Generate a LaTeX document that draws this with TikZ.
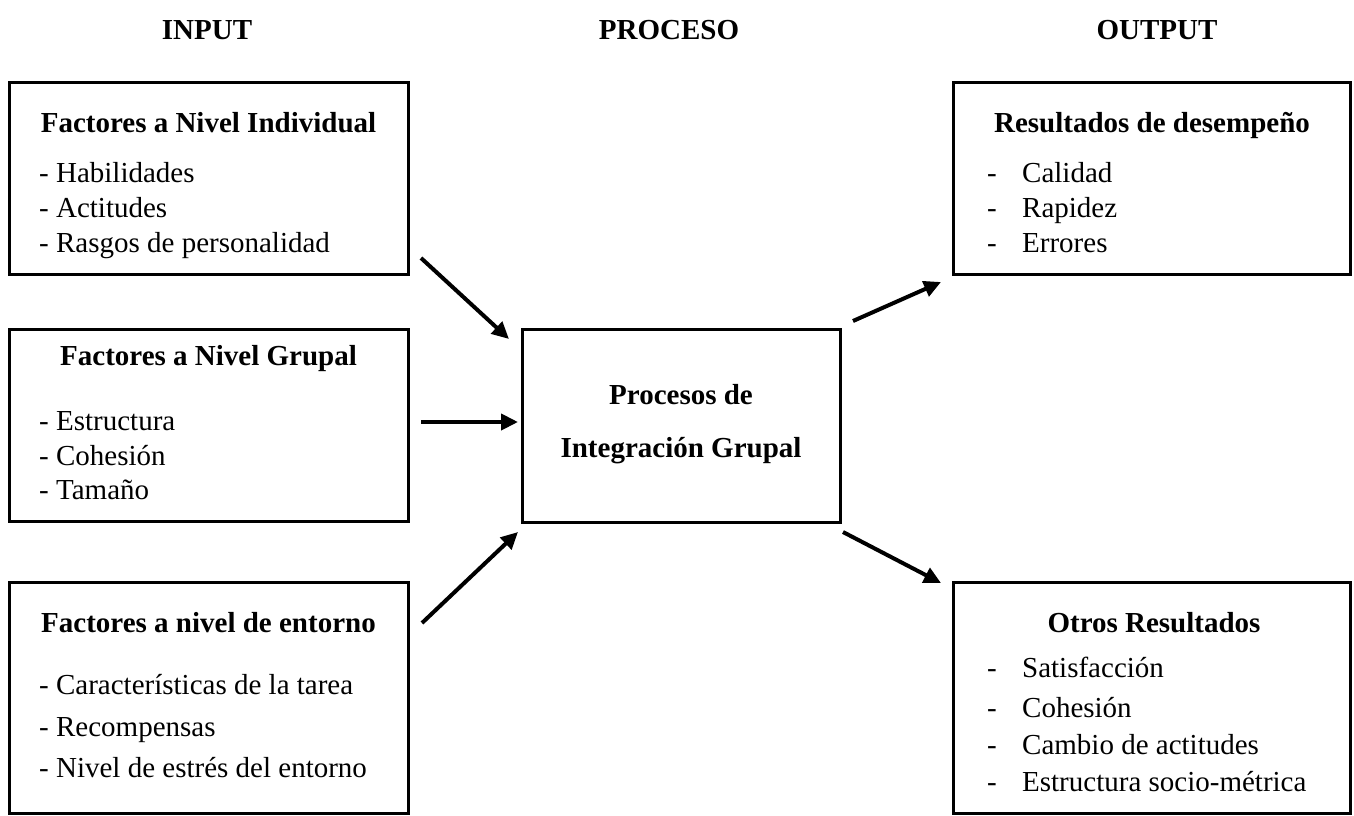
\documentclass[tikz,border=0pt]{standalone}
\usepackage{fontspec}
\setmainfont{Liberation Serif}
\usetikzlibrary{arrows.meta}
\begin{document}
\begin{tikzpicture}[
  x=1pt, y=-1pt,
  caja/.style={draw=black, line width=3pt, inner sep=0pt},
  encab/.style={font=\fontsize{29}{35}\selectfont\bfseries, inner sep=0pt, anchor=base},
  titulo/.style={font=\fontsize{29}{35}\selectfont\bfseries, inner sep=0pt, anchor=base},
  item/.style={font=\fontsize{29}{35}\selectfont, inner sep=0pt, anchor=base west},
  flecha/.style={line width=4pt, -{Triangle[length=17pt,width=16pt]}}
]
\useasboundingbox (0,0) rectangle (1354,816);

\node[encab] (hin) at (207,40) {INPUT};
\node[encab] (hpr) at (669,40) {PROCESO};
\node[encab] (hout) at (1157,40) {OUTPUT};

\node[caja, minimum width=399pt, minimum height=192pt] (indiv) at (208.5,178) {};
\node[caja, minimum width=399pt, minimum height=192pt] (grupal) at (208.5,425) {};
\node[caja, minimum width=399pt, minimum height=231pt] (entorno) at (208.5,697.5) {};
\node[caja, minimum width=318pt, minimum height=193pt] (proceso) at (681,425.5) {};
\node[caja, minimum width=397pt, minimum height=192pt] (desemp) at (1151.5,178) {};
\node[caja, minimum width=397pt, minimum height=231pt] (otros) at (1151.5,697.5) {};

\node[titulo] (tindiv) at (208.5,132) {Factores a Nivel Individual};
\node[item] (i1) at (39,182) {- Habilidades};
\node[item] (i2) at (39,217) {- Actitudes};
\node[item] (i3) at (39,252) {- Rasgos de personalidad};

\node[titulo] (tgrupal) at (208.5,365) {Factores a Nivel Grupal};
\node[item] (g1) at (39,430) {- Estructura};
\node[item] (g2) at (39,465) {- Cohesión};
\node[item] (g3) at (39,499) {- Tamaño};

\node[titulo] (tentorno) at (208.5,632) {Factores a nivel de entorno};
\node[item] (e1) at (39,694) {- Características de la tarea};
\node[item] (e2) at (39,736) {- Recompensas};
\node[item] (e3) at (39,777) {- Nivel de estrés del entorno};

\node[titulo] (tproc1) at (681,404) {Procesos de};
\node[titulo] (tproc2) at (681,457) {Integración Grupal};

\node[titulo] (tdesemp) at (1152,132) {Resultados de desempeño};
\node[item] (d1) at (987,182) {\makebox[35pt][l]{-}Calidad};
\node[item] (d2) at (987,217) {\makebox[35pt][l]{-}Rapidez};
\node[item] (d3) at (987,252) {\makebox[35pt][l]{-}Errores};

\node[titulo] (totros) at (1154,632) {Otros Resultados};
\node[item] (o1) at (987,677) {\makebox[35pt][l]{-}Satisfacción};
\node[item] (o2) at (987,717) {\makebox[35pt][l]{-}Cohesión};
\node[item] (o3) at (987,754) {\makebox[35pt][l]{-}Cambio de actitudes};
\node[item] (o4) at (987,791) {\makebox[35pt][l]{-}Estructura socio-métrica};

\coordinate (a1) at (421,258);
\coordinate (b1) at (509,339);
\coordinate (a2) at (421,422);
\coordinate (b2) at (518,422);
\coordinate (a3) at (422,623);
\coordinate (b3) at (518,532);
\coordinate (a4) at (853,321);
\coordinate (b4) at (941,282);
\coordinate (a5) at (843,532);
\coordinate (b5) at (941,583);

\draw[flecha] (a1) -- (b1);
\draw[flecha] (a2) -- (b2);
\draw[flecha] (a3) -- (b3);
\draw[flecha] (a4) -- (b4);
\draw[flecha] (a5) -- (b5);
\end{tikzpicture}
\end{document}
